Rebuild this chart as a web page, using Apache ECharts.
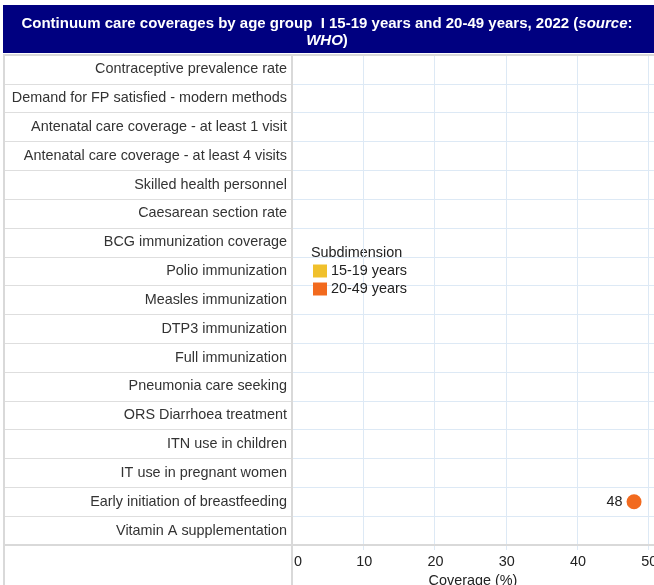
<!DOCTYPE html>
<html>
<head>
<meta charset="utf-8">
<script src="https://cdn.jsdelivr.net/npm/echarts@6/dist/echarts.min.js"></script>
<style>
  html, body { margin: 0; padding: 0; background: #fff; }
  #chart { width: 654px; height: 585px; }
</style>
</head>
<body>
<div id="chart"></div>
<script>
// indicateurs, du haut vers le bas
var categories = [
  'Contraceptive prevalence rate',
  'Demand for FP satisfied - modern methods',
  'Antenatal care coverage - at least 1 visit',
  'Antenatal care coverage - at least 4 visits',
  'Skilled health personnel',
  'Caesarean section rate',
  'BCG immunization coverage',
  'Polio immunization',
  'Measles immunization',
  'DTP3 immunization',
  'Full immunization',
  'Pneumonia care seeking',
  'ORS Diarrhoea treatment',
  'ITN use in children',
  'IT use in pregnant women',
  'Early initiation of breastfeeding',
  'Vitamin A supplementation'
];
var seriesNames = ['15-19 years', '20-49 years'];
var seriesColors = ['#f0c02c', '#f26a1e'];
var age1519 = [null, null, null, null, null, null, null, null, null, null, null, null, null, null, null, null, null];
var age2049 = [null, null, null, null, null, null, null, null, null, null, null, null, null, null, null, 48, null];
var xTicks = [0, 10, 20, 30, 40, 50];

function toPoints(values) {
  var pts = [];
  values.forEach(function (v, i) {
    if (v !== null) pts.push([v, categories[i]]);
  });
  return pts;
}

var myChart = echarts.init(document.getElementById('chart'));
var font = 'Liberation Sans, Arial, sans-serif';
var fs = 14.4;
var plotTop = 55, plotH = 490, sep = 292;

var option = {
  animation: false,
  textStyle: { fontFamily: font },
  title: {
    text: '{b|Continuum care coverages by age group  I 15-19 years and 20-49 years, 2022 (}{bi|source}{b|:}\n{bi|WHO}{b|)}',
    left: 'center',
    top: 10,
    textStyle: {
      rich: {
        b: { color: '#fff', fontWeight: 'bold', fontSize: 15, fontFamily: font, lineHeight: 17 },
        bi: { color: '#fff', fontWeight: 'bold', fontStyle: 'italic', fontSize: 15, fontFamily: font, lineHeight: 17 }
      }
    }
  },
  graphic: [
    { type: 'rect', z: -10, shape: { x: 3, y: 5, width: 651, height: 48 }, style: { fill: '#000080' } },
    { type: 'line', z: 10, shape: { x1: 3, y1: plotTop, x2: 654, y2: plotTop }, style: { stroke: '#d9d9d9', lineWidth: 2 } },
    { type: 'line', z: 10, shape: { x1: 3, y1: plotTop + plotH, x2: 654, y2: plotTop + plotH }, style: { stroke: '#d9d9d9', lineWidth: 2 } },
    { type: 'line', z: 10, shape: { x1: 4, y1: plotTop, x2: 4, y2: 585 }, style: { stroke: '#d9d9d9', lineWidth: 2 } },
    { type: 'line', z: 10, shape: { x1: sep, y1: plotTop, x2: sep, y2: 585 }, style: { stroke: '#d9d9d9', lineWidth: 2 } },
    { type: 'text', left: 311, top: 246, style: { text: 'Subdimension', fontSize: fs, fontFamily: font, fill: '#222' } }
  ],
  legend: {
    data: seriesNames,
    orient: 'vertical',
    left: 308,
    top: 259,
    icon: 'rect',
    itemWidth: 14,
    itemHeight: 13,
    itemGap: 4,
    itemStyle: { opacity: 1 },
    textStyle: { fontSize: fs, color: '#222', fontFamily: font, padding: [0, 0, 0, -1] }
  },
  grid: [
    { left: sep, right: 0, top: plotTop, height: plotH, containLabel: false, outerBoundsMode: 'none' },
    { left: 4, width: sep - 4, top: plotTop, height: plotH, containLabel: false, outerBoundsMode: 'none' }
  ],
  xAxis: [
    {
      gridIndex: 0,
      type: 'value',
      min: 0,
      max: 50.8,
      interval: 10,
      name: 'Coverage (%)',
      nameLocation: 'middle',
      nameGap: 28,
      nameTextStyle: { fontSize: fs, color: '#222' },
      axisLine: { show: false },
      axisTick: { show: true, length: 5, lineStyle: { color: '#dde9f5' } },
      axisLabel: { fontSize: fs, color: '#222', margin: 10, alignMinLabel: 'left', padding: [0, 0, 0, 2],
        formatter: function (v) { return xTicks.indexOf(v) >= 0 ? v : ''; } },
      splitLine: { show: true, lineStyle: { color: '#dde9f5', width: 1 } }
    },
    { gridIndex: 1, type: 'value', show: false }
  ],
  yAxis: [
    {
      gridIndex: 0,
      type: 'category',
      data: categories,
      inverse: true,
      axisLine: { show: false },
      axisTick: { show: false },
      axisLabel: { fontSize: fs, color: '#333', margin: 5, padding: [3, 0, 0, 0] },
      splitLine: { show: true, lineStyle: { color: '#dde9f5', width: 1 } }
    },
    {
      gridIndex: 1,
      type: 'category',
      data: categories,
      inverse: true,
      axisLine: { show: false },
      axisTick: { show: false },
      axisLabel: { show: false },
      splitLine: { show: true, lineStyle: { color: '#dedede', width: 1 } }
    }
  ],
  series: [
    {
      name: seriesNames[0],
      type: 'scatter',
      xAxisIndex: 0,
      yAxisIndex: 0,
      symbolSize: 15,
      itemStyle: { color: seriesColors[0], opacity: 1 },
      label: { show: true, position: 'left', distance: 4, fontSize: fs, color: '#222' },
      data: toPoints(age1519)
    },
    {
      name: seriesNames[1],
      type: 'scatter',
      xAxisIndex: 0,
      yAxisIndex: 0,
      symbolSize: 15,
      itemStyle: { color: seriesColors[1], opacity: 1 },
      label: { show: true, position: 'left', distance: 4, fontSize: fs, color: '#222',
        formatter: function (p) { return p.value[0]; } },
      data: toPoints(age2049)
    }
  ]
};
myChart.setOption(option);
</script>
</body>
</html>
